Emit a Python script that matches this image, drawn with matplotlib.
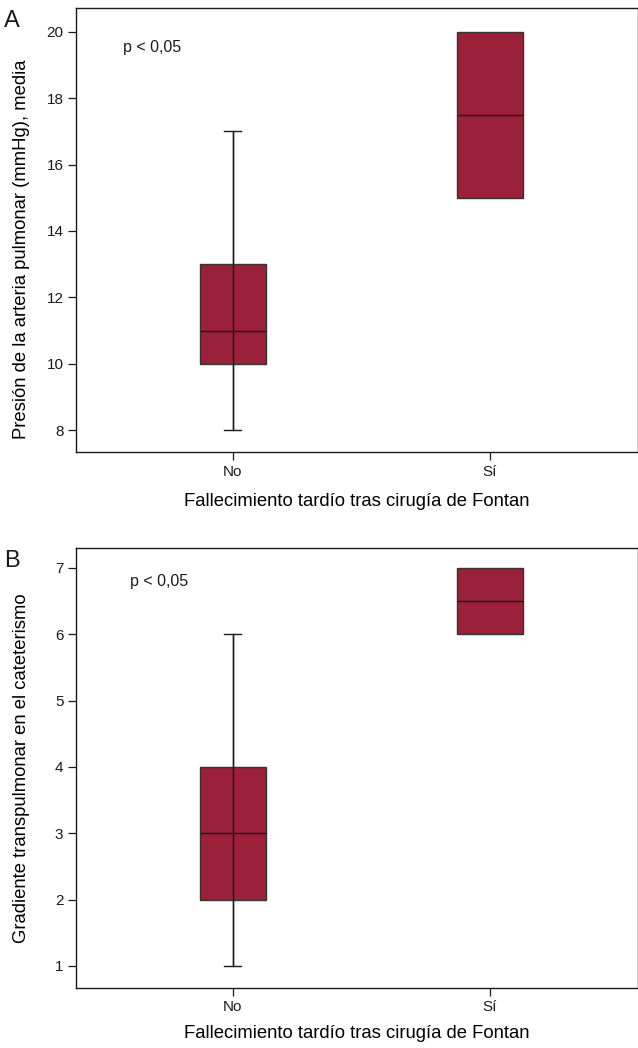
import matplotlib
matplotlib.use('agg')
import matplotlib.pyplot as plt

plt.rcParams['font.family'] = ['Liberation Sans', 'DejaVu Sans']
plt.rcParams['text.color'] = '#1a1a1a'

groups = ['No', 'Sí']
# panel A: presion arteria pulmonar
a_low = [8, 15]
a_q1 = [10, 15]
a_med = [11, 17.5]
a_q3 = [13, 20]
a_high = [17, 20]
# panel B: gradiente transpulmonar
b_low = [1, 6]
b_q1 = [2, 6]
b_med = [3, 6.5]
b_q3 = [4, 7]
b_high = [6, 7]

box_color = '#9a2139'
edge = '#1a1a1a'


def draw_panel(ax, low, q1, med, q3, high, ylabel, yticks, ylim, letter, ptext, xlab_y, ylab_y):
    stats = []
    for i in range(len(groups)):
        stats.append(dict(whislo=low[i], q1=q1[i], med=med[i], q3=q3[i],
                          whishi=high[i], fliers=[], label=groups[i]))
    pos = list(range(len(groups)))
    res = ax.bxp(stats, positions=pos, widths=0.255, patch_artist=True,
                 showfliers=False, capwidths=0.065,
                 boxprops=dict(facecolor=box_color, edgecolor='#333333', linewidth=1.0),
                 medianprops=dict(color=edge, linewidth=1.0),
                 whiskerprops=dict(color=edge, linewidth=1.0),
                 capprops=dict(color=edge, linewidth=1.0))
    # no caps where whiskers collapse on the box
    for i in pos:
        if low[i] >= q1[i]:
            res['caps'][2 * i].set_visible(False)
        if high[i] <= q3[i]:
            res['caps'][2 * i + 1].set_visible(False)
    # whisker line runs through the box
    for i in pos:
        if high[i] > q3[i] or low[i] < q1[i]:
            ax.vlines(i, low[i], high[i], color=edge, linewidth=1.0, zorder=3)
    ax.set_xlim(-0.61, 1.576)
    ax.set_ylim(*ylim)
    ax.set_yticks(yticks)
    ax.set_xticks(pos)
    ax.set_xticklabels(groups)
    ax.tick_params(direction='out', length=6, width=0.9, labelsize=11, pad=3,
                   colors=edge)
    for s in ax.spines.values():
        s.set_linewidth(1.0)
        s.set_color(edge)
    ax.set_ylabel(ylabel, fontsize=13.3)
    ax.yaxis.set_label_coords(-0.081, ylab_y)
    ax.set_xlabel('Fallecimiento tardío tras cirugía de Fontan', fontsize=13.3)
    ax.xaxis.set_label_coords(0.5, xlab_y)
    ax.text(ptext[0], ptext[1], 'p < 0,05', transform=ax.transAxes, fontsize=11.5, va='center')
    ax.text(-0.128, 0.97, letter, transform=ax.transAxes, fontsize=17, va='center')


fig = plt.figure(figsize=(6.38, 10.48), dpi=100)
ax1 = fig.add_axes([0.119, 0.5687, 0.881, 0.4237])
ax2 = fig.add_axes([0.119, 0.0573, 0.881, 0.4198])

draw_panel(ax1, a_low, a_q1, a_med, a_q3, a_high,
           'Presión de la arteria pulmonar (mmHg), media',
           [8, 10, 12, 14, 16, 18, 20], (7.34, 20.72), 'A', (0.083, 0.912), -0.093, 0.456)
draw_panel(ax2, b_low, b_q1, b_med, b_q3, b_high,
           'Gradiente transpulmonar en el cateterismo',
           [1, 2, 3, 4, 5, 6, 7], (0.668, 7.30), 'B', (0.097, 0.923), -0.084, 0.5)

fig.savefig('out.png', dpi=100)
